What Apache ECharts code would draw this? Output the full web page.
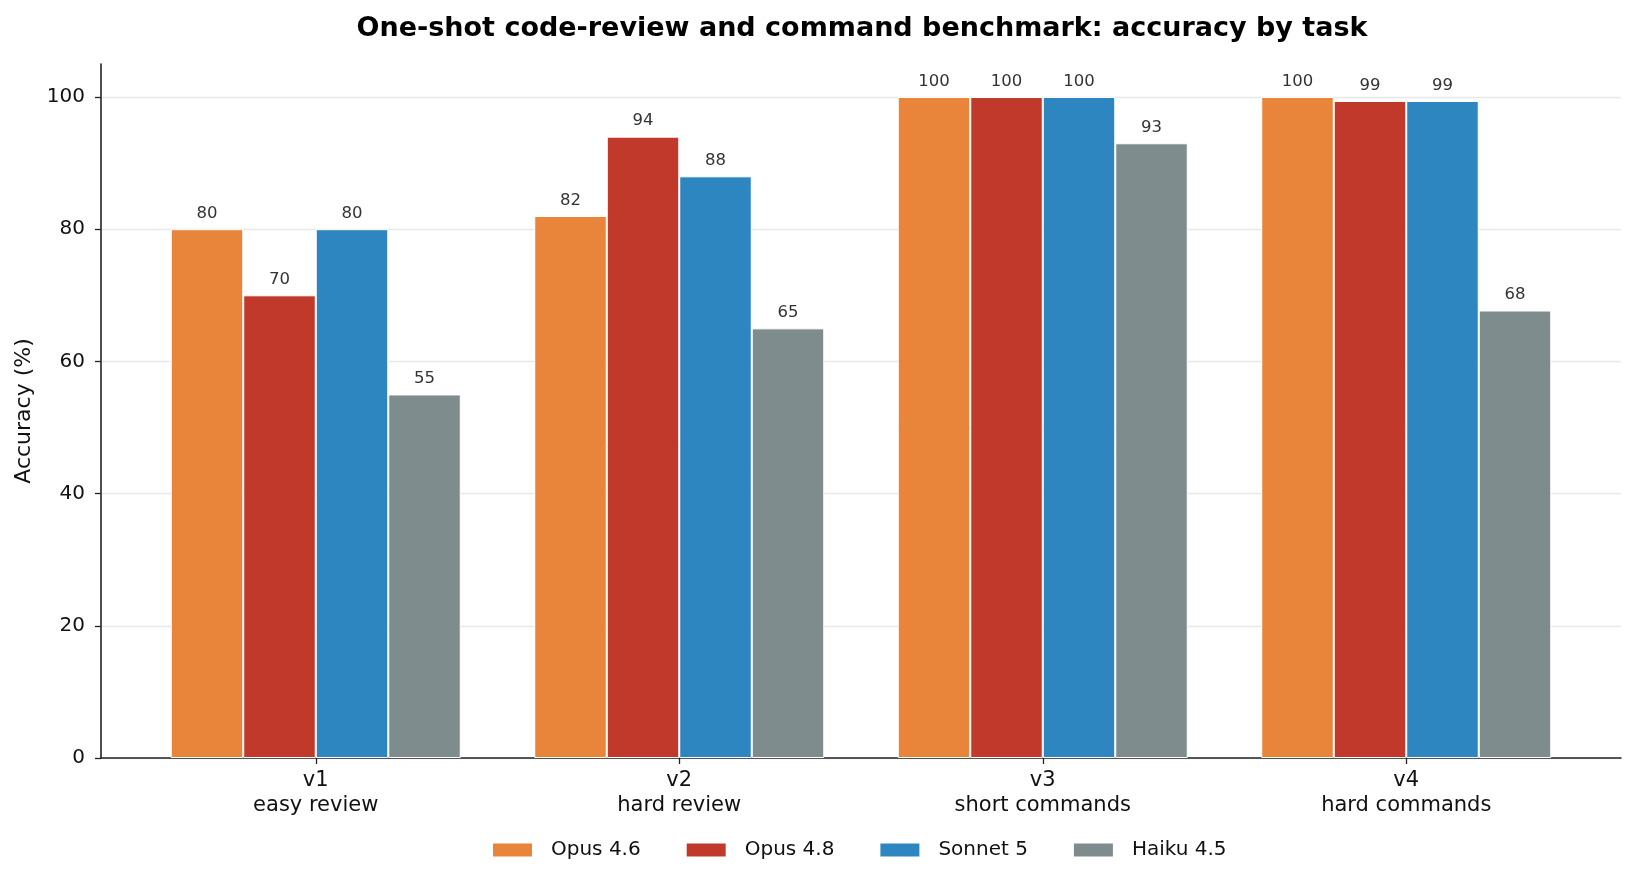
<!DOCTYPE html>
<html>
<head>
<meta charset="utf-8">
<script src="https://cdn.jsdelivr.net/npm/echarts@6/dist/echarts.min.js"></script>
<style>
html,body{margin:0;padding:0;background:#fff;}
#chart{width:1635px;height:883px;}
</style>
</head>
<body>
<div id="chart"></div>
<script>
const categories = ['v1\neasy review', 'v2\nhard review', 'v3\nshort commands', 'v4\nhard commands'];
const seriesNames = ['Opus 4.6', 'Opus 4.8', 'Sonnet 5', 'Haiku 4.5'];
const opus46 = [80, 82, 100, 100];
const opus48 = [70, 94, 100, 99.4];
const sonnet5 = [80, 88, 100, 99.4];
const haiku45 = [55, 65, 93, 67.7];
const yTicks = [0, 20, 40, 60, 80, 100];
const colors = ['#E8853A', '#C0392B', '#2E86C1', '#7F8C8D'];

const FONT = 'DejaVu Sans';
const chart = echarts.init(document.getElementById('chart'), null, {renderer: 'canvas'});
const valuesList = [opus46, opus48, sonnet5, haiku45];

const option = {
  backgroundColor: '#ffffff',
  animation: false,
  textStyle: {fontFamily: FONT},
  title: {
    text: 'One-shot code-review and command benchmark: accuracy by task',
    left: 857, top: 10, textAlign: 'center',
    textStyle: {fontFamily: FONT, fontSize: 27, fontWeight: 'bold', color: '#000'}
  },
  legend: {
    data: seriesNames,
    left: 491, top: 840, padding: 0,
    itemWidth: 41, itemHeight: 15, itemGap: 44,
    icon: 'rect',
    textStyle: {fontFamily: FONT, fontSize: 20, color: '#111', padding: [0, 0, 0, 13]}
  },
  grid: [
    {left: 101, right: 14, top: 64, bottom: 125, containLabel: false},
    {left: 101, right: 14, top: 97, bottom: 125, containLabel: false},
    {left: 134, right: 47, top: 97, bottom: 125, containLabel: false}
  ],
  xAxis: [
    {gridIndex: 0, type: 'value', min: 0, max: 1, axisLine: {show: true, onZero: false, lineStyle: {color: '#222', width: 1.6}},
     axisTick: {show: false}, axisLabel: {show: false}, splitLine: {show: false}},
    {gridIndex: 1, type: 'value', min: 0, max: 1, show: false},
    {gridIndex: 2, type: 'category', data: categories,
     axisLine: {show: false}, axisTick: {show: true, alignWithLabel: true, length: 6, lineStyle: {color: '#222', width: 1.3}},
     axisLabel: {fontFamily: FONT, fontSize: 21, color: '#111', lineHeight: 25, margin: 10}}
  ],
  yAxis: [
    {gridIndex: 0, type: 'value', min: 0, max: 105, axisLine: {show: true, lineStyle: {color: '#222', width: 1.6}},
     axisTick: {show: false}, axisLabel: {show: false}, splitLine: {show: false},
     name: 'Accuracy (%)', nameLocation: 'middle', nameGap: 66,
     nameTextStyle: {fontFamily: FONT, fontSize: 22, color: '#111'}},
    {gridIndex: 1, type: 'value', min: yTicks[0], max: yTicks[yTicks.length - 1], interval: 20,
     axisLine: {show: false},
     axisTick: {show: true, length: 6, lineStyle: {color: '#222', width: 1.3}},
     axisLabel: {fontFamily: FONT, fontSize: 20, color: '#111', margin: 16},
     splitLine: {show: true, lineStyle: {color: '#e8e8e8', width: 1.3}}},
    {gridIndex: 2, type: 'value', min: 0, max: 100, show: false}
  ],
  series: seriesNames.map((name, i) => ({
    name: name,
    type: 'bar',
    xAxisIndex: 2, yAxisIndex: 2,
    data: valuesList[i],
    barWidth: 72.5,
    barGap: '0%',
    itemStyle: {color: colors[i], borderColor: '#ffffff', borderWidth: 1},
    label: {
      show: true, position: 'top', distance: 7,
      fontFamily: FONT, fontSize: 16.5, color: '#333',
      formatter: p => String(Math.round(p.value))
    }
  }))
};
chart.setOption(option);
</script>
</body>
</html>
